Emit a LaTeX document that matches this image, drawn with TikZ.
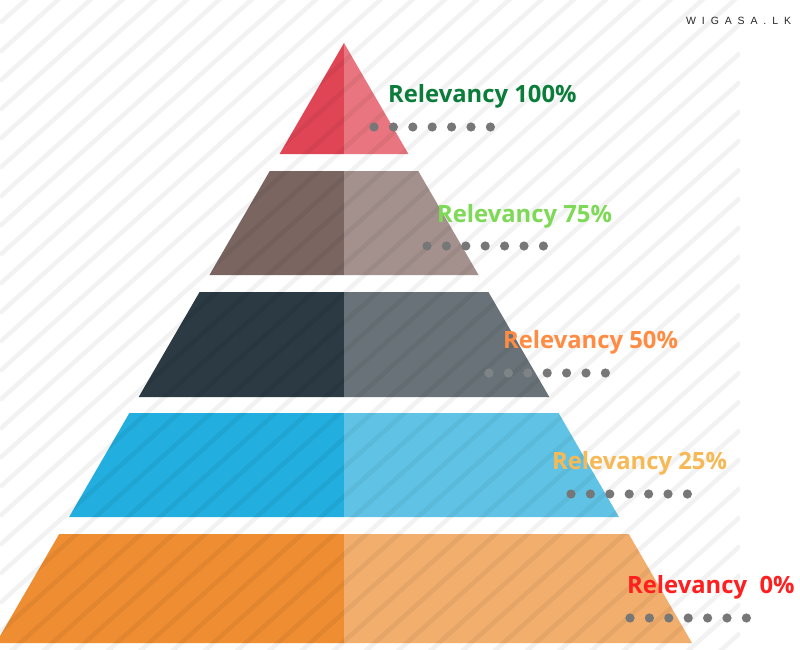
\documentclass[tikz,border=0pt]{standalone}
\usepackage{fontspec}
\setmainfont{Open Sans}
\newfontfamily\markfont[LetterSpace=56]{Liberation Sans}
\usetikzlibrary{positioning}

\definecolor{redL}{HTML}{E04555}
\definecolor{redR}{HTML}{E8757F}
\definecolor{brownL}{HTML}{7A6560}
\definecolor{brownR}{HTML}{A4918D}
\definecolor{slateL}{HTML}{2B3A43}
\definecolor{slateR}{HTML}{687278}
\definecolor{blueL}{HTML}{22AEDF}
\definecolor{blueR}{HTML}{60C3E6}
\definecolor{orangeL}{HTML}{EF8D32}
\definecolor{orangeR}{HTML}{F2AE6D}
\definecolor{txtA}{HTML}{0B7D3B}
\definecolor{txtB}{HTML}{7ED957}
\definecolor{txtC}{HTML}{FF8C42}
\definecolor{txtD}{HTML}{F7B955}
\definecolor{txtE}{HTML}{FF1F1F}
\definecolor{dotgray}{HTML}{777777}
\definecolor{dimdot}{HTML}{7E8386}

\begin{document}
\begin{tikzpicture}[x=1pt,y=-1pt,
  lbl/.style={anchor=base west,inner sep=0,font=\fontsize{23.8}{28}\selectfont\bfseries},
  stripe/.style={line width=4.5pt,black,draw opacity=0.05},
  dotfill/.style={fill=dotgray}]
\clip (0,0) rectangle (800,650);
\fill[white] (0,0) rectangle (800,650);
% pyramid, left and right halves
\fill[redL] (344,43) -- (344,154) -- (279.6,154) -- cycle;
\fill[redR] (344,43) -- (408.4,154) -- (344,154) -- cycle;
\foreach \yt/\yb/\cl/\cr in {171/275/brownL/brownR,292/397/slateL/slateR,413/517/blueL/blueR,534/643/orangeL/orangeR}{
  \fill[\cl] ({344-0.58*(\yt-43)},\yt) -- (344,\yt) -- (344,\yb) -- ({344-0.58*(\yb-43)},\yb) -- cycle;
  \fill[\cr] (344,\yt) -- ({344+0.58*(\yt-43)},\yt) -- ({344+0.58*(\yb-43)},\yb) -- (344,\yb) -- cycle;
}
% background stripes
\begin{scope}
  \clip (0,0) rectangle (740,650);
  \foreach \c in {23,52,...,1380}
    \draw[stripe] (0,\c) -- (740,{\c-666});
\end{scope}
% dots
\foreach \x/\y in {374/127,427/246,489/373,571/494,630/618}
  \foreach \i in {0,...,6}
    \fill[dotfill] ({\x+19.4*\i},\y) circle (4.6);
\foreach \i in {0,1,2}
  \fill[dimdot] ({489+19.4*\i},373) circle (4.6);
% labels
\node[lbl,text=txtA] (r100) at (388,103) {Relevancy 100\%};
\node[lbl,text=txtB] (r75) at (437,222) {Relevancy 75\%};
\node[lbl,text=txtC] (r50) at (503,348) {Relevancy 50\%};
\node[lbl,text=txtD] (r25) at (552,469) {Relevancy 25\%};
\node[lbl,text=txtE] (r0) at (627,593) {Relevancy\ \ 0\%};
\node[anchor=base west,inner sep=0,font=\markfont\fontsize{10.5}{12}\selectfont,text=black!85] (mark) at (686,25) {WIGASA.LK};
\end{tikzpicture}
\end{document}
